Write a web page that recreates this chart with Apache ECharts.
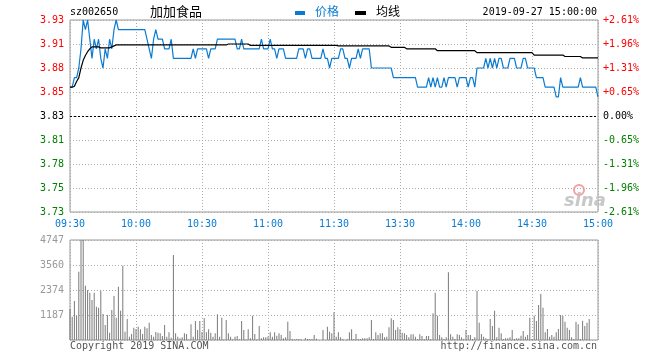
<!DOCTYPE html>
<html><head><meta charset="utf-8">
<script src="https://cdn.jsdelivr.net/npm/echarts@6/dist/echarts.min.js"></script>
<style>html,body{margin:0;padding:0;background:#fff;}#c{width:660px;height:360px;}</style>
</head><body><div id="c"></div>
<script>
const timeLabels = ['09:30','10:00','10:30','11:00','11:30','13:30','14:00','14:30','15:00'];
const priceTicks = ['3.73','3.75','3.78','3.81','3.83','3.85','3.88','3.91','3.93'];
const pctTicks = ['-2.61%','-1.96%','-1.31%','-0.65%','0.00%','+0.65%','+1.31%','+1.96%','+2.61%'];
const volTicks = ['','1187','2374','3560','4747'];
const prevClose = 3.83;

const prices = [
3.86,3.86,3.87,3.87,3.88,3.90,3.93,3.92,3.93,3.91,
3.89,3.91,3.90,3.91,3.89,3.88,3.90,3.89,3.91,3.90,
3.92,3.93,3.92,3.92,3.92,3.92,3.92,3.92,3.92,3.92,
3.92,3.92,3.92,3.92,3.92,3.91,3.90,3.89,3.91,3.92,
3.91,3.91,3.91,3.90,3.90,3.90,3.91,3.89,3.89,3.89,
3.89,3.89,3.89,3.89,3.89,3.89,3.90,3.89,3.90,3.90,
3.90,3.90,3.90,3.89,3.90,3.90,3.90,3.91,3.91,3.91,
3.91,3.91,3.91,3.91,3.91,3.91,3.90,3.90,3.91,3.90,
3.90,3.90,3.90,3.90,3.90,3.90,3.90,3.91,3.90,3.90,
3.90,3.91,3.90,3.90,3.89,3.90,3.90,3.90,3.89,3.89,
3.89,3.89,3.89,3.89,3.90,3.90,3.90,3.89,3.90,3.90,
3.89,3.89,3.89,3.89,3.89,3.90,3.89,3.89,3.88,3.89,
3.89,3.89,3.89,3.90,3.90,3.89,3.89,3.88,3.89,3.89,
3.89,3.90,3.89,3.90,3.90,3.90,3.90,3.88,3.88,3.88,
3.88,3.88,3.88,3.88,3.88,3.88,3.88,3.87,3.87,3.87,
3.87,3.87,3.87,3.87,3.87,3.87,3.87,3.87,3.86,3.86,
3.86,3.86,3.86,3.87,3.86,3.87,3.86,3.87,3.86,3.86,
3.87,3.86,3.87,3.87,3.87,3.87,3.86,3.87,3.87,3.87,
3.87,3.86,3.87,3.87,3.86,3.88,3.88,3.88,3.88,3.89,
3.88,3.89,3.88,3.89,3.88,3.89,3.89,3.88,3.88,3.88,
3.89,3.89,3.89,3.88,3.88,3.88,3.89,3.89,3.88,3.88,
3.88,3.88,3.87,3.87,3.87,3.87,3.86,3.86,3.86,3.86,
3.86,3.85,3.85,3.87,3.86,3.86,3.86,3.86,3.86,3.86,
3.86,3.86,3.87,3.86,3.86,3.86,3.86,3.86,3.86,3.86,
3.85
];

const avgLine = [
3.860,3.860,3.861,3.866,3.870,3.880,3.888,3.893,3.897,3.900,
3.902,3.902,3.902,3.902,3.901,3.901,3.901,3.901,3.901,3.902,
3.903,3.904,3.904,3.904,3.904,3.904,3.904,3.904,3.904,3.904,
3.904,3.904,3.904,3.904,3.904,3.904,3.904,3.904,3.904,3.904,
3.904,3.904,3.904,3.904,3.904,3.904,3.904,3.904,3.904,3.904,
3.904,3.904,3.904,3.904,3.904,3.904,3.904,3.904,3.904,3.904,
3.904,3.904,3.904,3.904,3.904,3.904,3.904,3.904,3.904,3.904,
3.904,3.904,3.905,3.905,3.905,3.905,3.905,3.905,3.905,3.905,
3.905,3.905,3.9035,3.9035,3.9035,3.9035,3.9035,3.9035,3.9035,3.9035,
3.9035,3.9035,3.9035,3.9035,3.9035,3.9035,3.9035,3.9035,3.9035,3.9035,
3.9035,3.9035,3.9035,3.9035,3.9035,3.9035,3.9035,3.9035,3.9035,3.9035,
3.9035,3.9035,3.9035,3.9035,3.9035,3.9035,3.9035,3.9035,3.9035,3.9035,
3.9035,3.9035,3.903,3.903,3.903,3.903,3.903,3.903,3.903,3.903,
3.903,3.903,3.903,3.903,3.903,3.903,3.903,3.903,3.903,3.903,
3.903,3.903,3.903,3.903,3.903,3.903,3.9015,3.9015,3.9015,3.9015,
3.9015,3.9015,3.9015,3.900,3.900,3.900,3.900,3.900,3.900,3.900,
3.900,3.900,3.900,3.900,3.900,3.900,3.900,3.898,3.898,3.898,
3.898,3.898,3.898,3.898,3.898,3.898,3.898,3.898,3.898,3.898,
3.898,3.898,3.898,3.898,3.898,3.896,3.896,3.896,3.896,3.896,
3.896,3.896,3.896,3.896,3.896,3.896,3.896,3.896,3.896,3.896,
3.896,3.896,3.896,3.896,3.896,3.896,3.896,3.896,3.896,3.896,
3.896,3.8935,3.8935,3.8935,3.8935,3.8935,3.8935,3.8935,3.8935,3.8935,
3.8935,3.8935,3.8935,3.8935,3.8935,3.892,3.892,3.892,3.892,3.892,
3.892,3.892,3.892,3.8905,3.8905,3.8905,3.8905,3.8905,3.8905,3.8905,
3.8905
];

const volumes = [
1470,1107,1850,1155,3243,4747,4747,2578,2373,2246,
1898,2246,1582,1535,2341,1234,712,1186,348,1424,
2088,1060,2531,1392,3528,395,997,158,285,585,
522,633,506,285,633,554,823,237,158,380,
348,316,190,712,158,364,111,4034,316,158,
79,127,316,285,32,744,158,902,475,902,
380,1028,364,506,348,158,316,1218,158,1060,
32,949,316,158,32,158,190,32,902,475,
32,506,79,1155,285,32,664,79,127,127,
158,364,158,364,206,316,237,79,127,870,
427,47,32,47,47,32,0,95,47,47,
47,237,63,0,0,475,0,633,395,316,
1313,158,364,127,47,0,47,364,506,47,
285,47,47,79,79,79,127,949,47,364,
237,316,316,127,158,601,1028,949,475,601,
506,348,316,237,127,269,269,158,47,269,
190,47,190,190,47,1266,2246,1155,237,127,
47,127,3211,269,158,47,269,237,127,47,
475,237,237,47,127,2325,823,285,158,79,
47,997,664,1392,127,585,316,47,79,79,
127,475,47,79,79,206,427,158,237,1060,
47,1155,902,1661,2183,1535,364,522,158,237,
158,364,522,1186,1139,870,585,475,127,47,
870,744,47,918,664,823,997,0,0,0,
0
];

const mono = '"DejaVu Sans Mono","Liberation Mono",monospace';
const blue = '#0a7bd1';
const dotted = {show:true, lineStyle:{color:'#aaaaaa', width:1, type:[1,2]}};
const tickIdx = v => Math.round((v - 3.73) / 0.025);
const tickColor = v => { const i = tickIdx(v); return i > 4 ? '#ff0000' : (i < 4 ? '#008000' : '#000000'); };

const chart = echarts.init(document.getElementById('c'), null, {renderer:'canvas'});
chart.setOption({
  animation:false,
  grid:[
    {left:70, right:62, top:20, height:192, show:true, borderColor:'#999', borderWidth:1, backgroundColor:'transparent'},
    {left:70, right:62, top:240, height:100, show:true, borderColor:'#999', borderWidth:1, backgroundColor:'transparent'}
  ],
  xAxis:[
    {type:'value', gridIndex:0, min:0, max:240, interval:30,
     axisLine:{show:false}, axisTick:{show:false}, splitLine:dotted,
     axisLabel:{color:blue, fontFamily:mono, fontSize:10, margin:7, showMinLabel:true, showMaxLabel:true,
       formatter:v => timeLabels[Math.round(v/30)]}},
    {type:'value', gridIndex:1, min:0, max:240, interval:30,
     axisLine:{show:false}, axisTick:{show:false}, splitLine:dotted, axisLabel:{show:false}}
  ],
  yAxis:[
    {type:'value', gridIndex:0, min:3.73, max:3.93, interval:0.025, position:'left',
     axisLine:{show:false}, axisTick:{show:false}, splitLine:dotted,
     axisLabel:{fontFamily:mono, fontSize:10, margin:6, showMinLabel:true, showMaxLabel:true,
       color:tickColor, formatter:v => priceTicks[tickIdx(v)]}},
    {type:'value', gridIndex:0, min:3.73, max:3.93, interval:0.025, position:'right',
     axisLine:{show:false}, axisTick:{show:false}, splitLine:{show:false},
     axisLabel:{fontFamily:mono, fontSize:10, margin:5, showMinLabel:true, showMaxLabel:true,
       color:tickColor, formatter:v => pctTicks[tickIdx(v)]}},
    {type:'value', gridIndex:1, min:0, max:4747, interval:1186.75, position:'left',
     axisLine:{show:false}, axisTick:{show:false}, splitLine:dotted,
     axisLabel:{fontFamily:mono, fontSize:10, margin:6, color:'#999999', showMaxLabel:true,
       formatter:v => volTicks[Math.round(v/1186.75)]}}
  ],
  series:[
    {name:'价格', type:'line', xAxisIndex:0, yAxisIndex:0, data:prices.map((p,i)=>[i,p]),
     symbol:'none', lineStyle:{color:blue, width:1.2}, itemStyle:{color:blue}, z:3,
     markLine:{silent:true, symbol:'none', label:{show:false},
       lineStyle:{color:'#000', width:1, type:[2,2]}, data:[{yAxis:prevClose}]}},
    {name:'均线', type:'line', xAxisIndex:0, yAxisIndex:0, data:avgLine.map((p,i)=>[i,p]),
     symbol:'none', lineStyle:{color:'#000', width:1.2}, itemStyle:{color:'#000'}, z:4},
    {name:'成交量', type:'bar', xAxisIndex:1, yAxisIndex:2, data:volumes.map((v,i)=>[i,v]),
     barWidth:1, itemStyle:{color:'#7a7a7a'}, z:3}
  ],
  graphic:[
    {type:'text', left:70, top:7, style:{text:'sz002650', font:'10px '+mono, fill:'#000'}},
    {type:'text', left:150, top:5, style:{text:'加加食品', font:'13px "Noto Sans CJK SC"', fill:'#000'}},
    {type:'rect', shape:{x:295, y:11, width:10, height:4}, style:{fill:blue}},
    {type:'text', left:315, top:5, style:{text:'价格', font:'12px "Noto Sans CJK SC"', fill:blue}},
    {type:'rect', shape:{x:355, y:11, width:11, height:4}, style:{fill:'#000'}},
    {type:'text', left:376, top:5, style:{text:'均线', font:'12px "Noto Sans CJK SC"', fill:'#000'}},
    {type:'text', right:63, top:7, style:{text:'2019-09-27 15:00:00', font:'10px '+mono, fill:'#000'}},
    {type:'text', left:70, top:341, style:{text:'Copyright 2019 SINA.COM', font:'10px '+mono, fill:'#555'}},
    {type:'text', right:63, top:341, style:{text:'http://finance.sina.com.cn', font:'10px '+mono, fill:'#555'}},
    {type:'circle', shape:{cx:579, cy:190, r:5}, style:{fill:'none', stroke:'#f4a0a0', lineWidth:2}},
    {type:'text', left:564, top:192, style:{text:'sina', font:'italic bold 18px "DejaVu Sans"', fill:'#c8c8c8'}}
  ]
});
</script>
</body></html>
